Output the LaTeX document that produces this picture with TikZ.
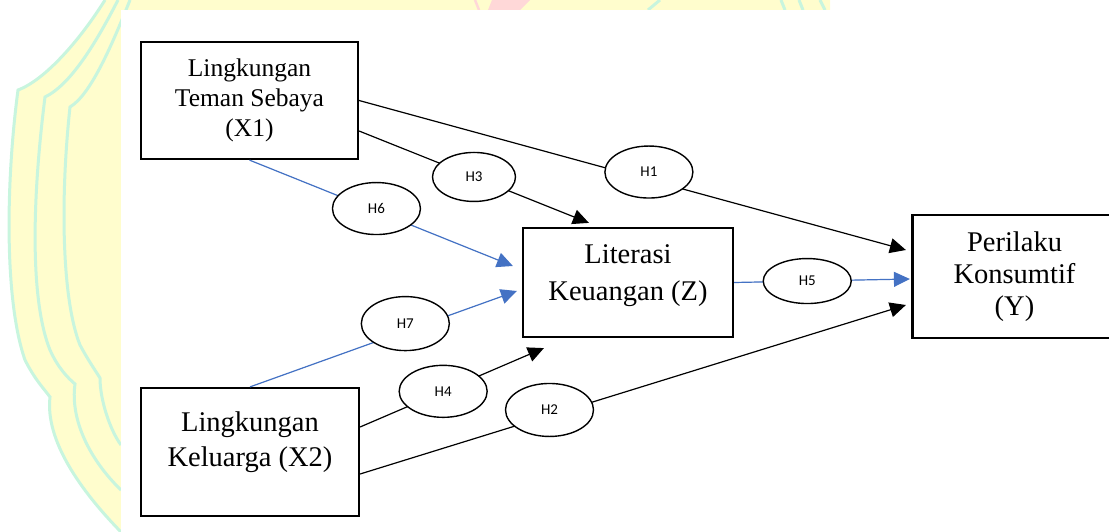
\documentclass[tikz,border=0pt]{standalone}
\usepackage{fontspec}
\setmainfont{Liberation Serif}
\newfontfamily\hypfont{Carlito}
\usetikzlibrary{shapes.geometric,arrows.meta}
\definecolor{wmyellow}{RGB}{255,253,205}
\definecolor{wmgreen}{RGB}{200,245,222}
\definecolor{wmred}{RGB}{255,216,216}
\definecolor{linkblue}{RGB}{68,114,196}
\newcommand*{\bigtext}{\fontsize{28.5}{35}\selectfont}

\begin{document}
\begin{tikzpicture}[x=1pt,y=-1pt,
    var/.style={draw,line width=2.2pt,inner sep=0pt,align=center,font=\bigtext},
    hyp/.style={draw=black,text=black,ellipse,fill=white,line width=1.4pt,inner sep=0pt,
        minimum width=88pt,minimum height=52pt,font=\hypfont\fontsize{15}{18}\selectfont},
    link/.style={line width=1.2pt,-{Triangle[length=16pt,width=15pt]}},
    bluelink/.style={link,draw=linkblue,fill=linkblue}]
    \useasboundingbox (0,0) rectangle (1109,532);
    % watermark behind the figure
    \fill[wmyellow] (105,0) .. controls (80,40) and (45,80) .. (18,90) .. controls (6,180) and (4,300) .. (25,360)
        .. controls (35,380) and (45,390) .. (50,397) .. controls (45,440) and (80,490) .. (121,532) -- (830,532) -- (830,0) -- cycle;
    \begin{scope}[wmgreen,line width=3pt]
        \draw (105,0) .. controls (80,40) and (45,80) .. (18,90) .. controls (6,180) and (4,300) .. (25,360)
            .. controls (35,380) and (45,390) .. (50,397) .. controls (45,440) and (80,490) .. (121,532);
        \draw (118,0) .. controls (95,45) and (70,85) .. (45,97) .. controls (32,200) and (30,300) .. (50,350)
            .. controls (58,368) and (68,378) .. (75,384) .. controls (70,420) and (90,460) .. (121,490);
        \draw (130,0) .. controls (110,50) and (90,95) .. (70,107) .. controls (60,200) and (62,300) .. (80,345)
            .. controls (88,360) and (95,370) .. (100,378) .. controls (100,400) and (110,430) .. (121,445);
        \draw (660,0) -- (648,10);
        \draw (781,0) -- (785,10);
        \draw (799,0) -- (803,10);
        \draw (820,0) -- (825,10);
    \end{scope}
    \fill[wmred] (492,0) -- (530,0) -- (520,10) -- (488,10) -- cycle;
    \draw[wmred,line width=2.5pt] (475,0) -- (479,10);
    \fill[white] (121,10) rectangle (1109,532);

    \node[var,minimum width=217pt,minimum height=117pt,font=\fontsize{25.5}{30}\selectfont] (x1) at (249.5,100.5) {Lingkungan\\Teman Sebaya\\(X1)};
    \node[var,minimum width=218pt,minimum height=128pt] (x2) at (250,452) {Lingkungan\\Keluarga (X2)\\[-10pt]\mbox{}};
    \node[var,minimum width=210pt,minimum height=109pt,font=\fontsize{28.5}{37}\selectfont] (z) at (628,282.5) {Literasi\\Keuangan (Z)\\[-18pt]\mbox{}};
    % right side of this box runs off the page
    \node[var,minimum width=204pt,minimum height=123pt,font=\fontsize{28.5}{32}\selectfont] (y) at (1014.5,276.5) {Perilaku\\Konsumtif\\(Y)};

    \coordinate (y1) at ([xshift=-5.5pt,yshift=26.5pt]y.west);
    \coordinate (y2) at ([xshift=-5.5pt,yshift=-28.5pt]y.west);
    \coordinate (y5) at ([xshift=-1.5pt,yshift=-2.5pt]y.west);
    \coordinate (z3) at ([xshift=67pt,yshift=4pt]z.north west);
    \coordinate (z6) at ([xshift=-9pt,yshift=16.5pt]z.west);
    \coordinate (z7) at ([xshift=-5pt,yshift=-8.5pt]z.west);
    \coordinate (z4) at ([xshift=22pt,yshift=-10pt]z.south west);

    \draw[link] (x1.east) -- node[hyp,pos=.53,yshift=7.7pt] (h1) {H1} (y1);
    \draw[link] ([yshift=-30.5pt]x1.east) -- node[hyp,pos=.5,minimum width=83pt,minimum height=49pt] (h3) {H3} (z3);
    \draw[bluelink] (x1.south) -- node[hyp,pos=.482,yshift=2.6pt] (h6) {H6} (z6);
    \draw[bluelink] (x2.north) -- node[hyp,pos=.582,yshift=7.5pt,minimum height=54pt] (h7) {H7} (z7);
    \draw[link] ([yshift=25pt]x2.east) -- node[hyp,pos=.452] (h4) {H4} (z4);
    \draw[link] ([yshift=-22pt]x2.east) -- node[hyp,pos=.347,yshift=5.4pt,minimum height=53pt] (h2) {H2} (y2);
    \draw[bluelink] (z.east) -- node[hyp,pos=.416,minimum height=45pt] (h5) {H5} (y5);
\end{tikzpicture}
\end{document}
